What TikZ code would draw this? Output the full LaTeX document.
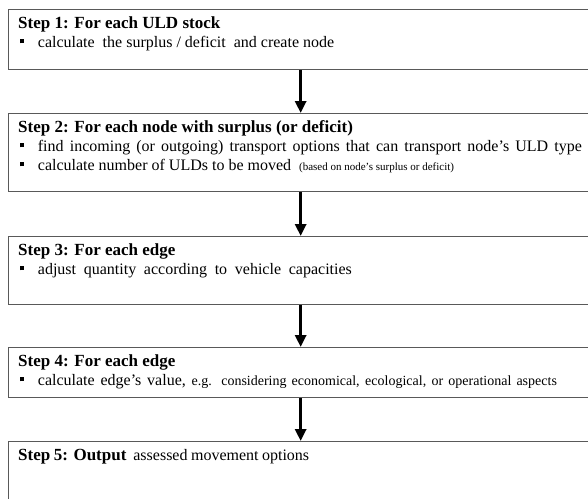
\documentclass[tikz,border=0pt]{standalone}
\usepackage{fontspec}
\setmainfont{Liberation Serif}
\usetikzlibrary{arrows.meta}
\newcommand{\bul}{\rule[0.22em]{4pt}{4pt}\hspace{13.7pt}}
\newcommand{\ttlfont}{\fontsize{17}{19}\selectfont\bfseries}
\newcommand{\itmfont}{\fontsize{16}{18}\selectfont}
\begin{document}
\begin{tikzpicture}[x=1pt,y=-1pt,
  stepbox/.style={draw=black!65,line width=1.3pt,rectangle,anchor=north west,minimum width=584pt,inner sep=0pt},
  ttl/.style={anchor=base west,inner sep=0pt,font=\ttlfont},
  itm/.style={anchor=base west,inner sep=0pt,font=\itmfont},
  arr/.style={line width=3pt,-{Triangle[width=11pt,length=12pt]}}]
\useasboundingbox (0,0) rectangle (588,498);
\begin{scope}
\clip (0,0) rectangle (588,498);
\node[stepbox,minimum height=60pt] (b1) at (8,9) {};
\node[stepbox,minimum height=78pt] (b2) at (8,113) {};
\node[stepbox,minimum height=68pt] (b3) at (8,236) {};
\node[stepbox,minimum height=50pt] (b4) at (8,347) {};
\node[stepbox,minimum height=70pt] (b5) at (8,441) {};
\end{scope}
\node[ttl] (t1) at (18,28) {Step 1: For each ULD stock};
\node[itm] (i1) at (20,47) {\bul calculate\ \ the surplus / deficit\ \ and create node};
\node[ttl] (t2) at (18,132) {Step 2: For each node with surplus (or deficit)};
\node[itm] (i2a) at (20,151) {\bul\makebox[544pt][s]{find incoming (or outgoing) transport options that can transport node’s ULD type}};
\node[itm] (i2b) at (20,170) {\bul calculate\ number\ of ULDs to be moved\ \ {\fontsize{11}{13}\selectfont (based on node’s surplus or deficit)}};
\node[ttl] (t3) at (18,255) {Step 3: For each edge};
\node[itm] (i3) at (20,274) {\bul\makebox[314pt][s]{adjust quantity according to vehicle capacities}};
\node[ttl] (t4) at (18,366) {Step 4: For each edge};
\node[itm] (i4) at (20,385) {\bul\makebox[519pt][s]{calculate edge’s value,\ {\fontsize{14}{16}\selectfont e.g. considering economical, ecological, or operational aspects}}};
\node[itm] (t5) at (18,460) {\makebox[291pt][s]{{\ttlfont Step 5: Output}\ \ assessed movement options}};
\draw[arr] (b1.south) -- (b2.north);
\draw[arr] (b2.south) -- (b3.north);
\draw[arr] (b3.south) -- (b4.north);
\draw[arr] (b4.south) -- (b5.north);
\end{tikzpicture}
\end{document}
